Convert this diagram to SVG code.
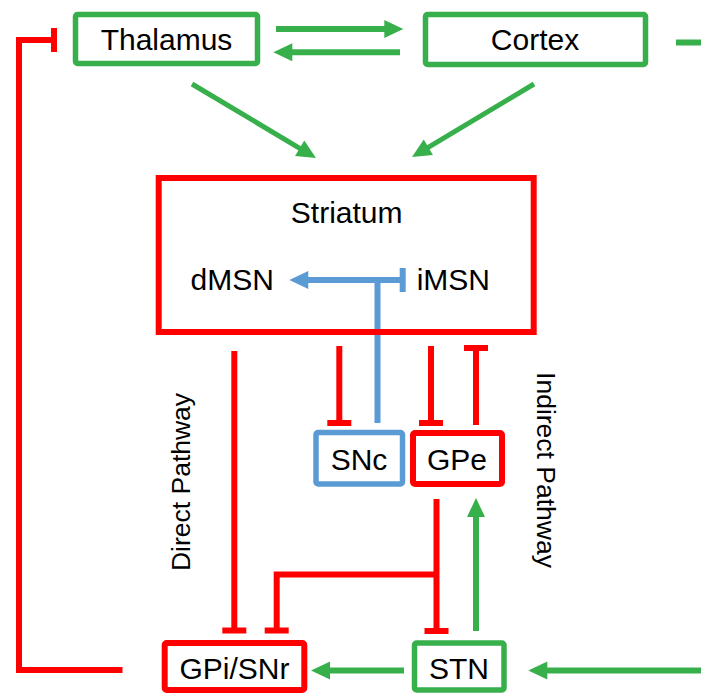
<svg xmlns="http://www.w3.org/2000/svg" width="701" height="695" viewBox="0 0 701 695">
<style>
.lbl{font-family:"Liberation Sans",Arial,Helvetica,sans-serif;font-size:30px;fill:#000;text-anchor:middle}
.side{font-family:"Liberation Sans",Arial,Helvetica,sans-serif;font-size:26.5px;fill:#000;text-anchor:middle}
.gbox{fill:#fff;stroke:#37B04C;stroke-width:5.5}
.rbox{fill:#fff;stroke:#FF0000;stroke-width:6}
.bbox{fill:#fff;stroke:#5B9BD5;stroke-width:5.5}
.g{fill:none;stroke:#37B04C;stroke-width:6}
.r{fill:none;stroke:#FF0000;stroke-width:6}
.b{fill:none;stroke:#5B9BD5;stroke-width:6}
</style>
<defs>
<marker id="arrG" markerUnits="userSpaceOnUse" markerWidth="19" markerHeight="18" refX="4" refY="9" orient="auto" overflow="visible"><path d="M0,0 L19,9 L0,18 z" fill="#37B04C"/></marker>
<marker id="arrB" markerUnits="userSpaceOnUse" markerWidth="19" markerHeight="18" refX="4" refY="9" orient="auto" overflow="visible"><path d="M0,0 L19,9 L0,18 z" fill="#5B9BD5"/></marker>
<marker id="teeR" markerUnits="userSpaceOnUse" markerWidth="6" markerHeight="24" refX="3" refY="12" orient="auto" overflow="visible"><rect width="6" height="24" fill="#FF0000"/></marker>
<marker id="teeB" markerUnits="userSpaceOnUse" markerWidth="6" markerHeight="24" refX="3" refY="12" orient="auto" overflow="visible"><rect width="6" height="24" fill="#5B9BD5"/></marker>
</defs>
<rect width="701" height="695" fill="#fff"/>
<g id="connectors">
<path class="g" d="M276,29 H388.3" marker-end="url(#arrG)"/>
<path class="g" d="M400,52.3 H288.3" marker-end="url(#arrG)"/>
<path class="g" d="M676,42.5 H701"/>
<path class="g" style="stroke-width:5" d="M192,84 L303.1,150.3" marker-end="url(#arrG)"/>
<path class="g" style="stroke-width:5" d="M534,84 L424.9,149.3" marker-end="url(#arrG)"/>
<path class="b" d="M402.7,280 H304.3" marker-start="url(#teeB)" marker-end="url(#arrB)"/>
<path class="b" d="M377.5,423 V280"/>
<path class="r" d="M339.3,346 V423" marker-end="url(#teeR)"/>
<path class="r" d="M431,346 V423" marker-end="url(#teeR)"/>
<path class="r" d="M476,425 V348" marker-end="url(#teeR)"/>
<path class="r" d="M234.3,351 V630.5" marker-end="url(#teeR)"/>
<path class="r" d="M436.5,499 V631" marker-end="url(#teeR)"/>
<path class="r" d="M436.5,574.5 H276.7 V630.5" marker-end="url(#teeR)"/>
<path class="g" d="M476,631 V513" marker-end="url(#arrG)"/>
<path class="g" d="M404,670.5 H326" marker-end="url(#arrG)"/>
<path class="g" d="M701,670.5 H543.3" marker-end="url(#arrG)"/>
<path class="r" d="M122.5,670 H19 V40 H54" marker-end="url(#teeR)"/>
</g>
<g id="thalamus"><rect class="gbox" x="75.5" y="14.5" width="182" height="49" rx="2"/><text class="lbl" x="166.5" y="50">Thalamus</text></g>
<g id="cortex"><rect class="gbox" x="425.5" y="14.5" width="220" height="50" rx="2"/><text class="lbl" x="535" y="50">Cortex</text></g>
<g id="striatum"><rect class="rbox" style="fill:none" x="158.7" y="178" width="375" height="154"/><text class="lbl" x="346.7" y="223">Striatum</text></g>
<g id="dmsn"><text class="lbl" x="232.3" y="290">dMSN</text></g>
<g id="imsn"><text class="lbl" x="453.3" y="290">iMSN</text></g>
<g id="snc"><rect class="bbox" x="316" y="432.5" width="86.5" height="51.5" rx="2"/><text class="lbl" x="359" y="469.5">SNc</text></g>
<g id="gpe"><rect class="rbox" x="413" y="433" width="89" height="51" rx="2"/><text class="lbl" x="457" y="469.5">GPe</text></g>
<g id="gpisnr"><rect class="rbox" x="164.7" y="643" width="139.6" height="47" rx="2"/><text class="lbl" x="234.5" y="678.5">GPi/SNr</text></g>
<g id="stn"><rect class="gbox" x="414.5" y="643" width="89.5" height="47" rx="2"/><text class="lbl" x="459" y="678.5">STN</text></g>
<g id="direct-label"><text class="side" transform="translate(189.5,482) rotate(-90)">Direct Pathway</text></g>
<g id="indirect-label"><text class="side" transform="translate(537,470) rotate(90)">Indirect Pathway</text></g>
</svg>
